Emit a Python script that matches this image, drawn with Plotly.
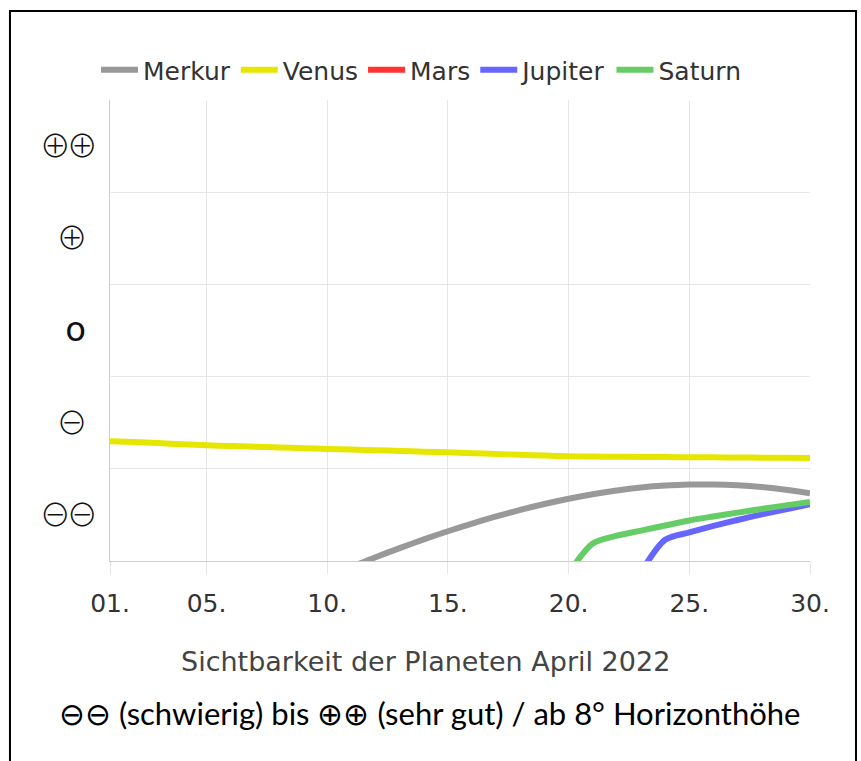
import plotly.graph_objects as go

days = list(range(1, 31))
x_tickvals = [1, 5, 10, 15, 20, 25, 30]
x_ticktext = ["01.", "05.", "10.", "15.", "20.", "25.", "30."]
y_tickvals = [0.5, 1.5, 2.5, 3.5, 4.5]
SYM = "<span style='font-family:Noto Sans CJK JP;font-weight:300;font-size:31px;letter-spacing:-4px'>{}</span>"
y_ticktext = [SYM.format("⊖⊖"), SYM.format("⊖") + "\u2004", "<span style='font-size:34px'>o</span>\u2005",
              SYM.format("⊕") + "\u2004", SYM.format("⊕⊕")]
y_gridvals = [0, 1, 2, 3, 4, 5]

N = None
merkur = [N, N, N, N, N, N, N, N, N, N,
          -0.063, 0.041, 0.140, 0.234, 0.323, 0.406, 0.483, 0.554, 0.618, 0.675,
          0.724, 0.765, 0.797, 0.818, 0.829, 0.830, 0.821, 0.802, 0.773, 0.734]
venus = [1.30, 1.29, 1.28, 1.265, 1.255, 1.247, 1.24, 1.232, 1.224, 1.216,
         1.209, 1.201, 1.194, 1.186, 1.179, 1.170, 1.161, 1.152, 1.143, 1.135,
         1.133, 1.131, 1.129, 1.127, 1.125, 1.124, 1.122, 1.121, 1.120, 1.118]
mars = [N] * 30
jupiter = [N] * 22 + [-0.12, 0.23, 0.31, 0.38, 0.445, 0.505, 0.56, 0.615]
saturn = [N] * 19 + [-0.13, 0.19, 0.275, 0.33, 0.385, 0.44, 0.483, 0.525, 0.565, 0.603, 0.64]

series = [
    ("Merkur", merkur, "#999999"),
    ("Venus", venus, "#e6e600"),
    ("Mars", mars, "#ff3333"),
    ("Jupiter", jupiter, "#6666ff"),
    ("Saturn", saturn, "#66cc66"),
]

fig = go.Figure()
for name, vals, col in series:
    fig.add_trace(go.Scatter(
        x=days, y=vals, name=name, mode="lines",
        line=dict(color=col, width=6, shape="spline", smoothing=0.8),
        connectgaps=False,
    ))

grid = "#e6e6e6"
fig.update_layout(
    width=861, height=761,
    margin=dict(l=110, r=51, t=100, b=200),
    paper_bgcolor="white", plot_bgcolor="white",
    font=dict(family="DejaVu Sans", color="#333333"),
    showlegend=True,
    legend=dict(
        orientation="h", x=-0.02, xanchor="left", y=1.015, yanchor="bottom",
        font=dict(family="DejaVu Sans", size=25, color="#333333"),
        itemwidth=37,
    ),
    xaxis=dict(
        range=[1, 30], tickvals=x_tickvals, ticktext=x_ticktext,
        showgrid=True, gridcolor=grid, gridwidth=1,
        ticks="outside", ticklen=12, tickcolor=grid, tickwidth=1,
        showline=True, linecolor="#cccccc", linewidth=1,
        zeroline=False, ticklabelstandoff=8,
        tickfont=dict(family="DejaVu Sans", size=25, color="#333333"),
    ),
    yaxis=dict(
        range=[0, 5], tickvals=y_tickvals, ticktext=y_ticktext,
        showgrid=False, ticks="", zeroline=False,
        showline=True, linecolor="#cccccc", linewidth=1,
        ticklabelstandoff=9,
        tickfont=dict(family="DejaVu Sans", size=31, color="#111111"),
        minor=dict(tickvals=y_gridvals, showgrid=True, gridcolor=grid, gridwidth=1, ticks=""),
    ),
    annotations=[
        dict(text="Sichtbarkeit der Planeten April 2022", xref="paper", yref="paper",
             x=0.451, y=-0.217, xanchor="center", yanchor="middle", showarrow=False,
             font=dict(family="DejaVu Sans", size=27, color="#444444")),
        dict(text="⊖⊖ (schwierig) bis ⊕⊕ (sehr gut) / ab 8° Horizonthöhe", xref="paper", yref="paper",
             x=0.457, y=-0.33, xanchor="center", yanchor="middle", showarrow=False,
             font=dict(family="Lato", size=31, color="#000000")),
    ],
    shapes=[
        dict(type="rect", xref="paper", yref="paper",
             x0=-0.1429, x1=1.0657, y0=-0.47, y1=1.193,
             line=dict(color="black", width=2), fillcolor="rgba(0,0,0,0)", layer="above"),
    ],
)

fig.write_html("out.html", config={"displayModeBar": False},
               post_script="document.body.style.margin='0';document.body.style.overflow='hidden';")
